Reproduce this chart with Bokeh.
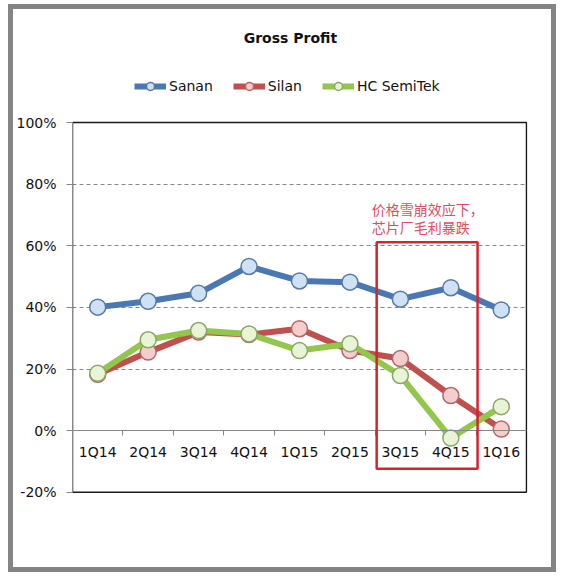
from bokeh.plotting import figure
from bokeh.models import (FixedTicker, PrintfTickFormatter, Legend, LegendItem,
                          BoxAnnotation, Label)
from bokeh.embed import file_html
from bokeh.resources import INLINE

quarters = ["1Q14", "2Q14", "3Q14", "4Q14", "1Q15", "2Q15", "3Q15", "4Q15", "1Q16"]
sanan = [40.1, 42.0, 44.6, 53.3, 48.6, 48.2, 42.7, 46.4, 39.2]
silan = [18.3, 25.5, 32.0, 31.2, 33.1, 26.0, 23.4, 11.4, 0.5]
hc_semitek = [18.6, 29.5, 32.5, 31.4, 26.0, 28.2, 17.9, -2.4, 7.8]
y_ticks = [-20, 0, 20, 40, 60, 80, 100]
title_text = "Gross Profit"
note_line1 = "价格雪崩效应下，"
note_line2 = "芯片厂毛利暴跌"

FONT = "DejaVu Sans"
xs = list(range(1, len(quarters) + 1))
n = len(quarters)

p = figure(width=538, height=558, output_backend="svg", toolbar_location=None,
           title=None, x_range=(0.5, n + 0.52), y_range=(-20.4, 135.1),
           min_border_left=59, min_border_right=24, min_border_top=5,
           min_border_bottom=74)
p.styles = {"outline": "5px solid #858585", "margin-left": "13px", "margin-top": "9px"}
p.background_fill_color = "white"
p.border_fill_color = "white"
p.outline_line_color = None

# y axis
p.yaxis.ticker = FixedTicker(ticks=y_ticks)
p.yaxis.bounds = (y_ticks[0], y_ticks[-1])
p.yaxis.formatter = PrintfTickFormatter(format="%d%%")
p.yaxis.axis_line_color = "#888888"
p.yaxis.major_tick_line_color = "#888888"
p.yaxis.major_tick_out = 6
p.yaxis.major_tick_in = 0
p.yaxis.minor_tick_line_color = None
p.yaxis.major_label_text_font = FONT
p.yaxis.major_label_text_font_size = "14px"
p.yaxis.major_label_text_color = "#111111"
p.yaxis.major_label_standoff = 10

# x axis at 0
p.xaxis.fixed_location = 0
p.xaxis.ticker = FixedTicker(ticks=xs, minor_ticks=[x + 0.5 for x in xs[:-1]])
p.xaxis.major_label_overrides = {x: q for x, q in zip(xs, quarters)}
p.xaxis.bounds = (0.5, n + 0.5)
p.xaxis.axis_line_color = "#888888"
p.xaxis.major_tick_line_color = None
p.xaxis.minor_tick_line_color = "#888888"
p.xaxis.minor_tick_out = 5
p.xaxis.minor_tick_in = 0
p.xaxis.major_label_text_font = FONT
p.xaxis.major_label_text_font_size = "14px"
p.xaxis.major_label_text_color = "#111111"
p.xaxis.major_label_standoff = 7

p.xgrid.grid_line_color = None
p.ygrid.grid_line_color = "#888888"
p.ygrid.grid_line_dash = "4 3"
p.ygrid.grid_line_width = 1
p.ygrid.bounds = (0.5, n + 0.5)

# plot box
p.add_layout(BoxAnnotation(left=0.5, right=n + 0.5, bottom=y_ticks[0], top=y_ticks[-1],
                           fill_alpha=0, line_color="#1a1a1a", line_alpha=1,
                           line_width=1.5, level="underlay"))

series = [
    ("Sanan", sanan, "#4a78b4", "#cfe2f5", "#5a7aa0"),
    ("Silan", silan, "#c0504d", "#f5cdcd", "#b06a68"),
    ("HC SemiTek", hc_semitek, "#92c64c", "#e9f3d6", "#8aa865"),
]
items = []
for name, vals, lc, fc, oc in series:
    lr = p.line(xs, vals, line_color=lc, line_width=6)
    sr = p.scatter(xs, vals, size=16, fill_color=fc, line_color=oc, line_width=1.5)
    items.append(LegendItem(label=name, renderers=[lr, sr]))

legend = Legend(items=items, orientation="horizontal", location=(62, 397),
                glyph_width=32, glyph_height=20, spacing=20, padding=0, margin=0,
                label_standoff=3, label_text_font=FONT, label_text_font_size="14px",
                label_text_color="#111111", border_line_color=None,
                background_fill_alpha=0)
p.add_layout(legend, "center")

p.add_layout(Label(x=4.82, y=127.6, text=title_text, text_font=FONT,
                   text_font_size="14px", text_font_style="bold", text_color="#111111",
                   text_align="center", text_baseline="middle"))

box = BoxAnnotation(left=6.53, right=8.53, top=61.2, bottom=-12.4,
                    fill_alpha=0, line_color="#d42430", line_alpha=1, line_width=2.5)
p.add_layout(box)

for txt, yv in [(note_line1, 72.0), (note_line2, 66.0)]:
    p.add_layout(Label(x=6.43, y=yv, text=txt, text_font="Noto Sans CJK SC",
                       text_font_size="14px", text_color="#d9505f",
                       text_baseline="middle", text_align="left"))

open("out.html", "w").write(file_html(p, INLINE))
